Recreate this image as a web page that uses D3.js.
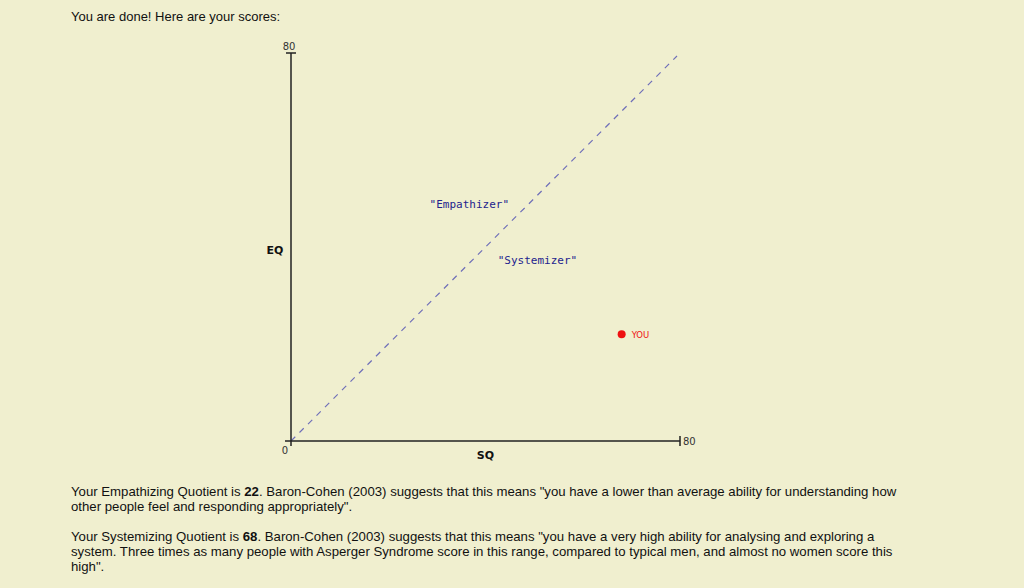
<!DOCTYPE html>
<html>
<head>
<meta charset="utf-8">
<script src="https://cdn.jsdelivr.net/npm/d3@7"></script>
<style>
  body { margin:0; background:#f0efcf; font-family:"Liberation Sans", Arial, sans-serif; color:#111; }
  #wrap { position:relative; width:1024px; height:588px; overflow:hidden; }
  .txt { position:absolute; left:71px; font-size:13px; line-height:15px; width:840px; }
  .para { font-size:13.2px; }
  svg { position:absolute; left:0; top:0; }
</style>
</head>
<body>
<div id="wrap">
  <div class="txt" style="top:9px">You are done! Here are your scores:</div>
  <svg id="chart" width="1024" height="588"></svg>
  <div class="txt para" id="p1" style="top:484px"></div>
  <div class="txt para" id="p2" style="top:529px"></div>
</div>
<script>
// scores
var sqScore = 68, eqScore = 22;
var axisMax = 80;
var regionLabels = ['"Empathizer"', '"Systemizer"'];
var regionPos = [[28.5, 48], [42.5, 36.5]]; // [SQ, EQ] where the labels sit
var divider = [[0, 0], [80, 80]];

var svg = d3.select("#chart");

var x = d3.scaleLinear().domain([0, axisMax]).range([291, 680]);
var y = d3.scaleLinear().domain([0, axisMax]).range([441, 53]);

var g = svg.append("g");

// dashed diagonal
g.append("line")
  .attr("x1", x(divider[0][0])).attr("y1", y(divider[0][1]))
  .attr("x2", x(divider[1][0]) - 3).attr("y2", y(divider[1][1]) + 3)
  .attr("stroke", "#6f6fb8").attr("stroke-width", 1.2)
  .attr("stroke-dasharray", "6,6");

// axes
g.append("line").attr("x1", x(0) - 6).attr("x2", x(axisMax))
  .attr("y1", y(0)).attr("y2", y(0)).attr("stroke", "#222").attr("stroke-width", 1.5);
g.append("line").attr("x1", x(0)).attr("x2", x(0))
  .attr("y1", y(0) + 5).attr("y2", y(axisMax)).attr("stroke", "#222").attr("stroke-width", 1.5);
// end ticks
g.append("line").attr("x1", x(axisMax)).attr("x2", x(axisMax))
  .attr("y1", y(0) - 5).attr("y2", y(0) + 5).attr("stroke", "#222").attr("stroke-width", 1.5);
g.append("line").attr("x1", x(0) - 5).attr("x2", x(0) + 5)
  .attr("y1", y(axisMax)).attr("y2", y(axisMax)).attr("stroke", "#222").attr("stroke-width", 1.5);

var tickFont = "'DejaVu Sans', Verdana, sans-serif";
g.append("text").attr("x", x(0) - 2).attr("y", y(axisMax) - 3).attr("text-anchor", "middle")
  .style("font-family", tickFont).style("font-size", "10px").attr("fill", "#333").text(axisMax);
g.append("text").attr("x", x(axisMax) + 3).attr("y", y(0) + 4)
  .style("font-family", tickFont).style("font-size", "10px").attr("fill", "#333").text(axisMax);
g.append("text").attr("x", x(0) - 6).attr("y", y(0) + 13).attr("text-anchor", "middle")
  .style("font-family", tickFont).style("font-size", "10px").attr("fill", "#333").text("0");

g.append("text").attr("x", 275).attr("y", y(40) + 7).attr("text-anchor", "middle")
  .style("font-family", tickFont).style("font-size", "11px").style("font-weight", "bold")
  .attr("fill", "#111").text("EQ");
g.append("text").attr("x", x(40)).attr("y", y(0) + 18).attr("text-anchor", "middle")
  .style("font-family", tickFont).style("font-size", "11px").style("font-weight", "bold")
  .attr("fill", "#111").text("SQ");

// region labels
g.selectAll(".region").data(regionLabels).enter().append("text")
  .attr("x", function(d, i){ return x(regionPos[i][0]); })
  .attr("y", function(d, i){ return y(regionPos[i][1]); })
  .style("font-family", "'DejaVu Sans Mono', monospace").style("font-size", "11px")
  .attr("fill", "#23238e").text(function(d){ return d; });

// the point
g.append("circle").attr("cx", x(sqScore)).attr("cy", y(eqScore)).attr("r", 4).attr("fill", "#ee1111");
g.append("text").attr("x", x(sqScore) + 10).attr("y", y(eqScore) + 3.5)
  .style("font-family", tickFont).style("font-size", "8.5px").attr("fill", "#ee1111").text("YOU");

d3.select("#p1").html('Your Empathizing Quotient is <b>' + eqScore + '</b>. Baron-Cohen (2003) suggests that this means "you have a lower than average ability for understanding how other people feel and responding appropriately".');
d3.select("#p2").html('Your Systemizing Quotient is <b>' + sqScore + '</b>. Baron-Cohen (2003) suggests that this means "you have a very high ability for analysing and exploring a system. Three times as many people with Asperger Syndrome score in this range, compared to typical men, and almost no women score this high".');
</script>
</body>
</html>
